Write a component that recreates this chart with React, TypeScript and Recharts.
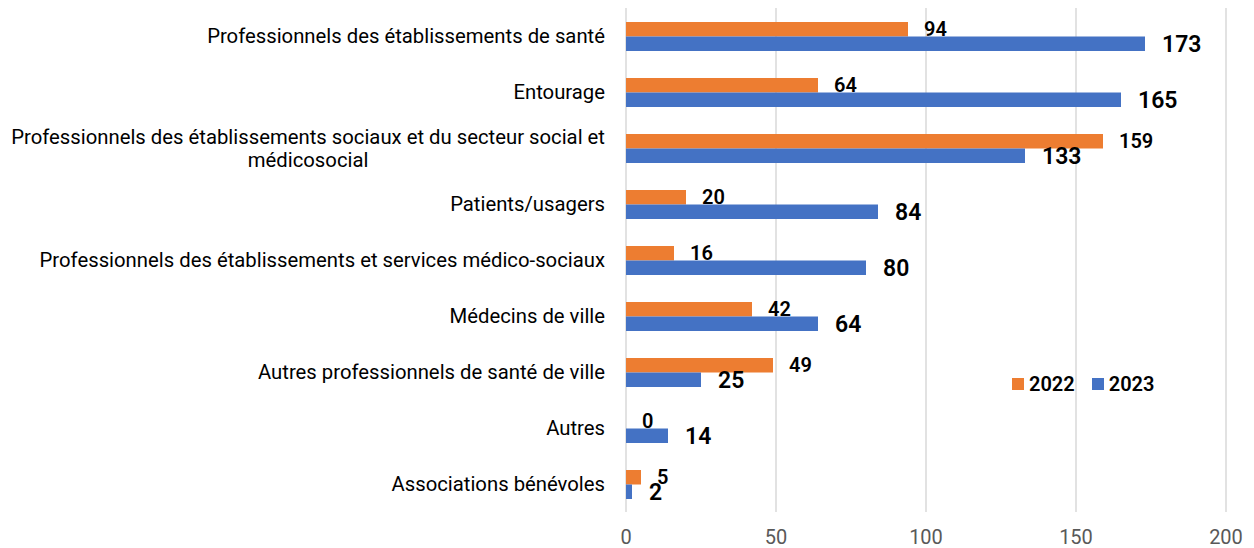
import React from "react";
import { BarChart, Bar, XAxis, YAxis, CartesianGrid } from "recharts";

const CATEGORIES = [
  "Professionnels des établissements de santé",
  "Entourage",
  "Professionnels des établissements sociaux et du secteur social et médicosocial",
  "Patients/usagers",
  "Professionnels des établissements et services médico-sociaux",
  "Médecins de ville",
  "Autres professionnels de santé de ville",
  "Autres",
  "Associations bénévoles",
];

const VALUES_2022 = [94, 64, 159, 20, 16, 42, 49, 0, 5];
const VALUES_2023 = [173, 165, 133, 84, 80, 64, 25, 14, 2];

const X_TICKS = [0, 50, 100, 150, 200];

const SERIES = [
  { key: "y2022", name: "2022", color: "#ED7D31" },
  { key: "y2023", name: "2023", color: "#4472C4" },
];

const data = CATEGORIES.map((name, i) => ({
  name,
  y2022: VALUES_2022[i],
  y2023: VALUES_2023[i],
}));

const FONT = "Roboto, 'Liberation Sans', sans-serif";
const LABEL_FONT_SIZE = 20.3;
const MAX_LABEL_WIDTH = 610;

let ctx: CanvasRenderingContext2D | null = null;
function measure(text: string) {
  if (!ctx) {
    ctx = document.createElement("canvas").getContext("2d");
  }
  if (!ctx) return text.length * LABEL_FONT_SIZE * 0.5;
  ctx.font = `${LABEL_FONT_SIZE}px ${FONT}`;
  return ctx.measureText(text).width;
}

function wrap(text: string) {
  const words = text.split(" ");
  const lines: string[] = [];
  let cur = "";
  for (const w of words) {
    const next = cur ? cur + " " + w : w;
    if (cur && measure(next) > MAX_LABEL_WIDTH) {
      lines.push(cur);
      cur = w;
    } else {
      cur = next;
    }
  }
  if (cur) lines.push(cur);
  return lines;
}

function CategoryTick(props: any) {
  const { x, y, payload } = props;
  const lines = wrap(payload.value);
  if (lines.length === 1) {
    return (
      <text
        x={x}
        y={y}
        dy="0.35em"
        textAnchor="end"
        fill="#000"
        fontSize={LABEL_FONT_SIZE}
        fontFamily={FONT}
      >
        {lines[0]}
      </text>
    );
  }
  const w = measure(lines[0]);
  const cx = x - w / 2;
  const lh = 23;
  const start = y - ((lines.length - 1) * lh) / 2;
  return (
    <g>
      {lines.map((l, i) => (
        <text
          key={i}
          x={cx}
          y={start + i * lh}
          dy="0.35em"
          textAnchor="middle"
          fill="#000"
          fontSize={LABEL_FONT_SIZE}
          fontFamily={FONT}
        >
          {l}
        </text>
      ))}
    </g>
  );
}

// bar + value label in one shape, so the label shows even for zero-length bars
function barWithLabel(dataKey: string, color: string, offset: number, size: number) {
  return (props: any) => {
    const { x, y, width, height, payload } = props;
    const value = payload[dataKey];
    return (
      <g>
        {width > 0 && (
          <rect x={x} y={y} width={width} height={height} fill={color} />
        )}
        <text
          x={x + Math.max(width, 0) + offset}
          y={y + height / 2}
          dy="0.36em"
          textAnchor="start"
          fill="#000"
          fontSize={size}
          fontWeight={600}
          fontFamily={FONT}
        >
          {value}
        </text>
      </g>
    );
  };
}

function LegendBox() {
  return (
    <div
      style={{
        position: "absolute",
        left: 1012,
        top: 372,
        display: "flex",
        alignItems: "center",
        fontFamily: FONT,
        fontSize: 20,
        fontWeight: 600,
        color: "#000",
      }}
    >
      {SERIES.map((s, i) => (
        <div
          key={s.key}
          style={{
            display: "flex",
            alignItems: "center",
            marginRight: i === 0 ? 17 : 0,
          }}
        >
          <span
            style={{
              display: "inline-block",
              width: 12,
              height: 12,
              background: s.color,
              marginRight: 5,
            }}
          />
          <span>{s.name}</span>
        </div>
      ))}
    </div>
  );
}

export default function App() {
  return (
    <div
      style={{
        position: "absolute",
        left: 0,
        top: 0,
        width: 1254,
        height: 548,
        background: "#fff",
        fontFamily: FONT,
      }}
    >
      <BarChart
        width={1254}
        height={548}
        data={data}
        layout="vertical"
        margin={{ top: 8, right: 28, bottom: 6, left: 0 }}
        barGap={0}
        barSize={14.5}
      >
        <CartesianGrid horizontal={false} stroke="#d9d9d9" strokeWidth={1.5} />
        <XAxis
          type="number"
          domain={[0, 200]}
          ticks={X_TICKS}
          axisLine={false}
          tickLine={false}
          tickSize={0}
          tickMargin={18}
          height={30}
          tick={{ fill: "#595959", fontSize: 20, fontFamily: FONT }}
        />
        <YAxis
          type="category"
          dataKey="name"
          width={626}
          axisLine={false}
          tickLine={false}
          tickSize={0}
          tickMargin={21}
          interval={0}
          tick={<CategoryTick />}
        />
        <Bar
          dataKey="y2022"
          name="2022"
          fill="#ED7D31"
          isAnimationActive={false}
          shape={barWithLabel("y2022", "#ED7D31", 16, 20)}
        />
        <Bar
          dataKey="y2023"
          name="2023"
          fill="#4472C4"
          isAnimationActive={false}
          shape={barWithLabel("y2023", "#4472C4", 17, 23)}
        />
      </BarChart>
      <LegendBox />
    </div>
  );
}
